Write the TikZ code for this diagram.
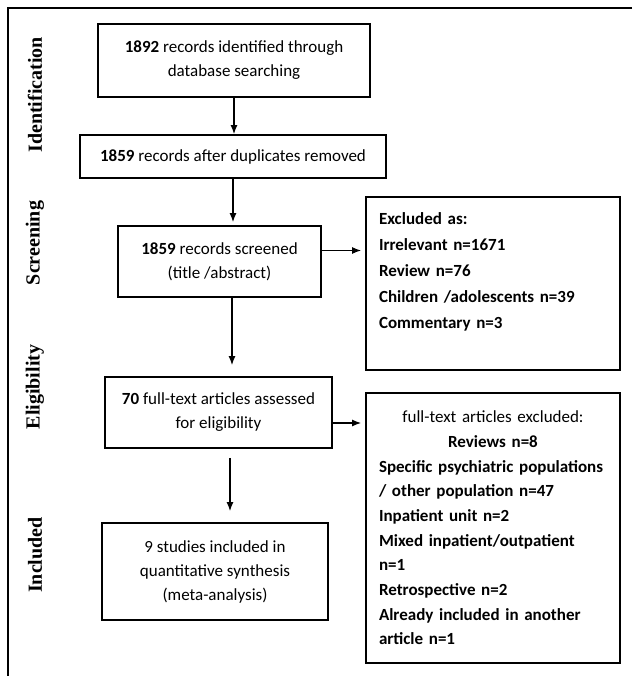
\documentclass[tikz,border=0pt]{standalone}
\usepackage{fontspec}
\setmainfont{Carlito}
\newfontfamily\stagefont{Liberation Serif}
\usetikzlibrary{positioning,arrows.meta}

\tikzset{
  stagebox/.style={draw, line width=1.8pt, inner sep=0pt, align=center,
    font=\fontsize{17}{24}\selectfont},
  exclbox/.style={draw, line width=1.8pt, inner xsep=13pt, inner ysep=0pt,
    text width=228pt, align=left, minimum width=254pt},
  stagelabel/.style={rotate=90,
    font=\stagefont\bfseries\fontsize{20}{24}\selectfont},
}

\begin{document}
\begin{tikzpicture}[x=1pt, y=-1pt, >={Latex[length=9pt,width=7pt]},
    line width=1.3pt]
  \useasboundingbox (0,0) rectangle (632,676);
  % outer frame
  \draw[line width=1.4pt] (632,8) -| (8,676);

  % stage labels
  \node (ident) [stagelabel] at (35,95) {Identification};
  \node (scrn)  [stagelabel] at (35,243) {Screening};
  \node (elig)  [stagelabel] at (35,387) {Eligibility};
  \node (inclu) [stagelabel] at (35,555) {Included};

  % main column
  \node (found) [stagebox, minimum width=272pt, minimum height=73pt]
    at (234,60.5) {\textbf{1892} records identified through\\database searching};
  \node (dedup) [stagebox, minimum width=306pt, minimum height=43pt]
    at (233,156.5) {\textbf{1859} records after duplicates removed};
  \node (screen) [stagebox, minimum width=203pt, minimum height=71pt]
    at (219.5,261.5) {\textbf{1859} records screened\\(title /abstract)};
  \node (assess) [stagebox, minimum width=227pt, minimum height=71pt]
    at (218.5,412.5) {\textbf{70} full-text articles assessed\\for eligibility};
  \node (incl) [stagebox, minimum width=226pt, minimum height=97pt]
    at (215,571.5) {9 studies included in\\quantitative synthesis\\(meta-analysis)};

  % excluded records
  \node (excla) [exclbox, minimum height=173pt,
                 font=\bfseries\fontsize{17}{26}\selectfont]
    at (493,283.5) {Excluded as:\\Irrelevant n=1671\\Review n=76\\
      Children /adolescents n=39\\Commentary n=3\\\mbox{}};
  \node (exclb) [exclbox, minimum height=270pt,
                 font=\bfseries\fontsize{17}{24.7}\selectfont]
    at (493,528) {\makebox[\hsize]{\mdseries full-text articles excluded:}\\
      \makebox[\hsize]{Reviews n=8}\\
      Specific psychiatric populations\\/ other population n=47\\
      Inpatient unit n=2\\Mixed inpatient/outpatient\\n=1\\
      Retrospective n=2\\Already included in another\\article n=1};

  % arrows
  \draw[->] (found) -- (found |- dedup.north);
  \draw[->, shorten >=3pt] (dedup.south) -- (dedup.south |- screen.north);
  \draw[->, shorten >=11pt] ([xshift=12.5pt]screen.south)
    -- ([xshift=12.5pt]screen.south |- assess.north);
  \draw[->, shorten <=9pt, shorten >=11pt] ([xshift=11.5pt]assess.south)
    -- ([xshift=11.5pt]assess.south |- incl.north);
  \draw[->, shorten >=4pt] ([yshift=11pt]screen.east)
    -- ([yshift=11pt]screen.east -| excla.west);
  \draw[->, shorten >=4pt] ([yshift=-10.5pt]assess.east)
    -- ([yshift=-10.5pt]assess.east -| exclb.west);
\end{tikzpicture}
\end{document}
